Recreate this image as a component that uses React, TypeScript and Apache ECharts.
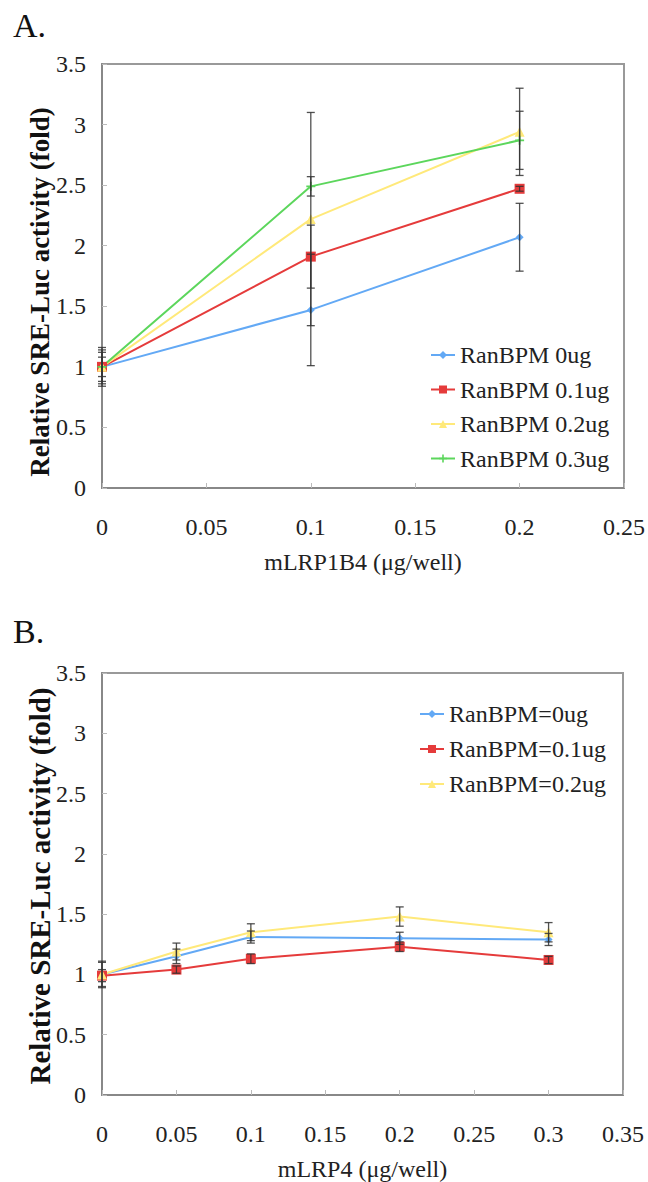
import React, { useEffect, useRef } from "react";
import * as echarts from "echarts";

// ---- Panel A data ----
const xA = [0, 0.1, 0.2];
const namesA = ["RanBPM 0ug", "RanBPM 0.1ug", "RanBPM 0.2ug", "RanBPM 0.3ug"];
const blueA = [1.0, 1.47, 2.07];
const blueErrA = [0.12, 0.46, 0.28];
const redA = [1.0, 1.91, 2.47];
const redErrA = [0.16, 0.26, 0.02];
const yellowA = [1.0, 2.22, 2.94];
const yellowErrA = [0.08, 0.88, 0.36];
const greenA = [1.0, 2.49, 2.87];
const greenErrA = [0.14, 0.08, 0.24];

// ---- Panel B data ----
const xB = [0, 0.05, 0.1, 0.2, 0.3];
const namesB = ["RanBPM=0ug", "RanBPM=0.1ug", "RanBPM=0.2ug"];
const blueB = [1.0, 1.15, 1.31, 1.3, 1.29];
const blueErrB = [0.1, 0.06, 0.05, 0.05, 0.05];
const redB = [0.99, 1.04, 1.13, 1.23, 1.12];
const redErrB = [0.05, 0.03, 0.04, 0.04, 0.03];
const yellowB = [1.0, 1.19, 1.35, 1.48, 1.35];
const yellowErrB = [0.11, 0.07, 0.07, 0.08, 0.08];

const yTicks = { min: 0, max: 3.5, interval: 0.5 };
const xTicksA = { min: 0, max: 0.25, interval: 0.05 };
const xTicksB = { min: 0, max: 0.35, interval: 0.05 };

const FONT = "'Liberation Serif', 'Times New Roman', 'DejaVu Serif', serif";
const COLORS = ["#63a9f5", "#e53b3b", "#ffe97a", "#5cd65c"];
const SYMBOLS = [
  "diamond",
  "rect",
  "triangle",
  "path://M4,0H6V4H10V6H6V10H4V6H0V4H4Z",
];
const SYMBOL_SIZES = [8, 10, 10, 9];

function lineSeries(name: string, xs: number[], ys: number[], idx: number, axis: number) {
  return {
    name,
    type: "line",
    xAxisIndex: axis,
    yAxisIndex: axis,
    data: xs.map((x, i) => [x, ys[i]]),
    symbol: SYMBOLS[idx],
    symbolSize: SYMBOL_SIZES[idx],
    showSymbol: true,
    lineStyle: { color: COLORS[idx], width: 2 },
    itemStyle: { color: COLORS[idx] },
    z: 3,
  };
}

function errSeries(name: string, xs: number[], ys: number[], errs: number[], axis: number) {
  return {
    name,
    type: "custom",
    xAxisIndex: axis,
    yAxisIndex: axis,
    z: 4,
    encode: { x: 0, y: 1 },
    data: xs.map((x, i) => [x, ys[i], errs[i]]),
    renderItem: (params: any, api: any) => {
      const x = api.value(0);
      const y = api.value(1);
      const e = api.value(2);
      const top = api.coord([x, y + e]);
      const bot = api.coord([x, y - e]);
      const half = 4;
      const style = { stroke: "#333", lineWidth: 1.3, opacity: 0.85 };
      return {
        type: "group",
        children: [
          { type: "line", shape: { x1: top[0], y1: top[1], x2: bot[0], y2: bot[1] }, style },
          { type: "line", shape: { x1: top[0] - half, y1: top[1], x2: top[0] + half, y2: top[1] }, style },
          { type: "line", shape: { x1: bot[0] - half, y1: bot[1], x2: bot[0] + half, y2: bot[1] }, style },
        ],
      };
    },
  };
}

const fmt = (v: number) => String(+v.toFixed(2));

function xAxisCfg(ticks: any, gridIndex: number, name: string) {
  return {
    type: "value",
    gridIndex,
    ...ticks,
    name,
    nameLocation: "middle",
    nameGap: 62,
    nameTextStyle: { fontFamily: FONT, fontSize: 24, color: "#222" },
    axisLine: { show: true, lineStyle: { color: "#888", width: 2 } },
    axisTick: { show: true, inside: true, length: 5, lineStyle: { color: "#bbb" } },
    axisLabel: { fontFamily: FONT, fontSize: 24, color: "#222", margin: 27, formatter: fmt },
    splitLine: { show: false },
  };
}

function yAxisCfg(gridIndex: number) {
  return {
    type: "value",
    gridIndex,
    ...yTicks,
    axisLine: { show: true, lineStyle: { color: "#888", width: 2 } },
    axisTick: { show: true, inside: true, length: 5, lineStyle: { color: "#bbb" } },
    axisLabel: { fontFamily: FONT, fontSize: 24, color: "#222", margin: 16, formatter: fmt },
    splitLine: { show: false },
  };
}

export default function App() {
  const ref = useRef<HTMLDivElement>(null);
  useEffect(() => {
    if (!ref.current) return;
    const chart = echarts.init(ref.current, undefined, { renderer: "svg" });
    const option: any = {
      animation: false,
      backgroundColor: "#fff",
      textStyle: { fontFamily: FONT },
      grid: [
        { left: 102, top: 64, width: 524, height: 424, show: true, borderColor: "#999", borderWidth: 2, backgroundColor: "transparent" },
        { left: 102, top: 673, width: 521, height: 422, show: true, borderColor: "#999", borderWidth: 2, backgroundColor: "transparent" },
      ],
      xAxis: [
        xAxisCfg(xTicksA, 0, "mLRP1B4 (μg/well)"),
        xAxisCfg(xTicksB, 1, "mLRP4 (μg/well)"),
      ],
      yAxis: [yAxisCfg(0), yAxisCfg(1)],
      legend: [
        {
          data: namesA,
          orient: "vertical",
          left: 425,
          top: 338,
          itemWidth: 24,
          itemHeight: 10,
          itemGap: 10.5,
          textStyle: { fontFamily: FONT, fontSize: 24, color: "#222", lineHeight: 24 },
        },
        {
          data: namesB,
          orient: "vertical",
          left: 414,
          top: 697,
          itemWidth: 24,
          itemHeight: 10,
          itemGap: 11,
          textStyle: { fontFamily: FONT, fontSize: 24, color: "#222", lineHeight: 24 },
        },
      ],
      graphic: [
        { type: "text", left: 13, top: 8, style: { text: "A.", fontFamily: FONT, fontSize: 34, fill: "#111" } },
        { type: "text", left: 13, top: 614, style: { text: "B.", fontFamily: FONT, fontSize: 34, fill: "#111" } },
        {
          type: "text",
          x: 40,
          y: 292,
          rotation: Math.PI / 2,
          style: {
            text: "Relative SRE-Luc activity (fold)",
            fontFamily: FONT,
            fontWeight: "bold",
            fontSize: 27,
            fill: "#111",
            align: "center",
            verticalAlign: "middle",
          },
        },
        {
          type: "text",
          x: 40,
          y: 886,
          rotation: Math.PI / 2,
          style: {
            text: "Relative SRE-Luc activity (fold)",
            fontFamily: FONT,
            fontWeight: "bold",
            fontSize: 29,
            fill: "#111",
            align: "center",
            verticalAlign: "middle",
          },
        },
      ],
      series: [
        lineSeries(namesA[0], xA, blueA, 0, 0),
        lineSeries(namesA[1], xA, redA, 1, 0),
        lineSeries(namesA[2], xA, yellowA, 2, 0),
        lineSeries(namesA[3], xA, greenA, 3, 0),
        errSeries("errA0", xA, blueA, blueErrA, 0),
        errSeries("errA1", xA, redA, redErrA, 0),
        errSeries("errA2", xA, yellowA, yellowErrA, 0),
        errSeries("errA3", xA, greenA, greenErrA, 0),
        lineSeries(namesB[0], xB, blueB, 0, 1),
        lineSeries(namesB[1], xB, redB, 1, 1),
        lineSeries(namesB[2], xB, yellowB, 2, 1),
        errSeries("errB0", xB, blueB, blueErrB, 1),
        errSeries("errB1", xB, redB, redErrB, 1),
        errSeries("errB2", xB, yellowB, yellowErrB, 1),
      ],
    };
    chart.setOption(option);
    return () => chart.dispose();
  }, []);
  return (
    <div
      ref={ref}
      style={{ position: "absolute", left: 0, top: 0, width: 648, height: 1182, background: "#fff" }}
    />
  );
}
